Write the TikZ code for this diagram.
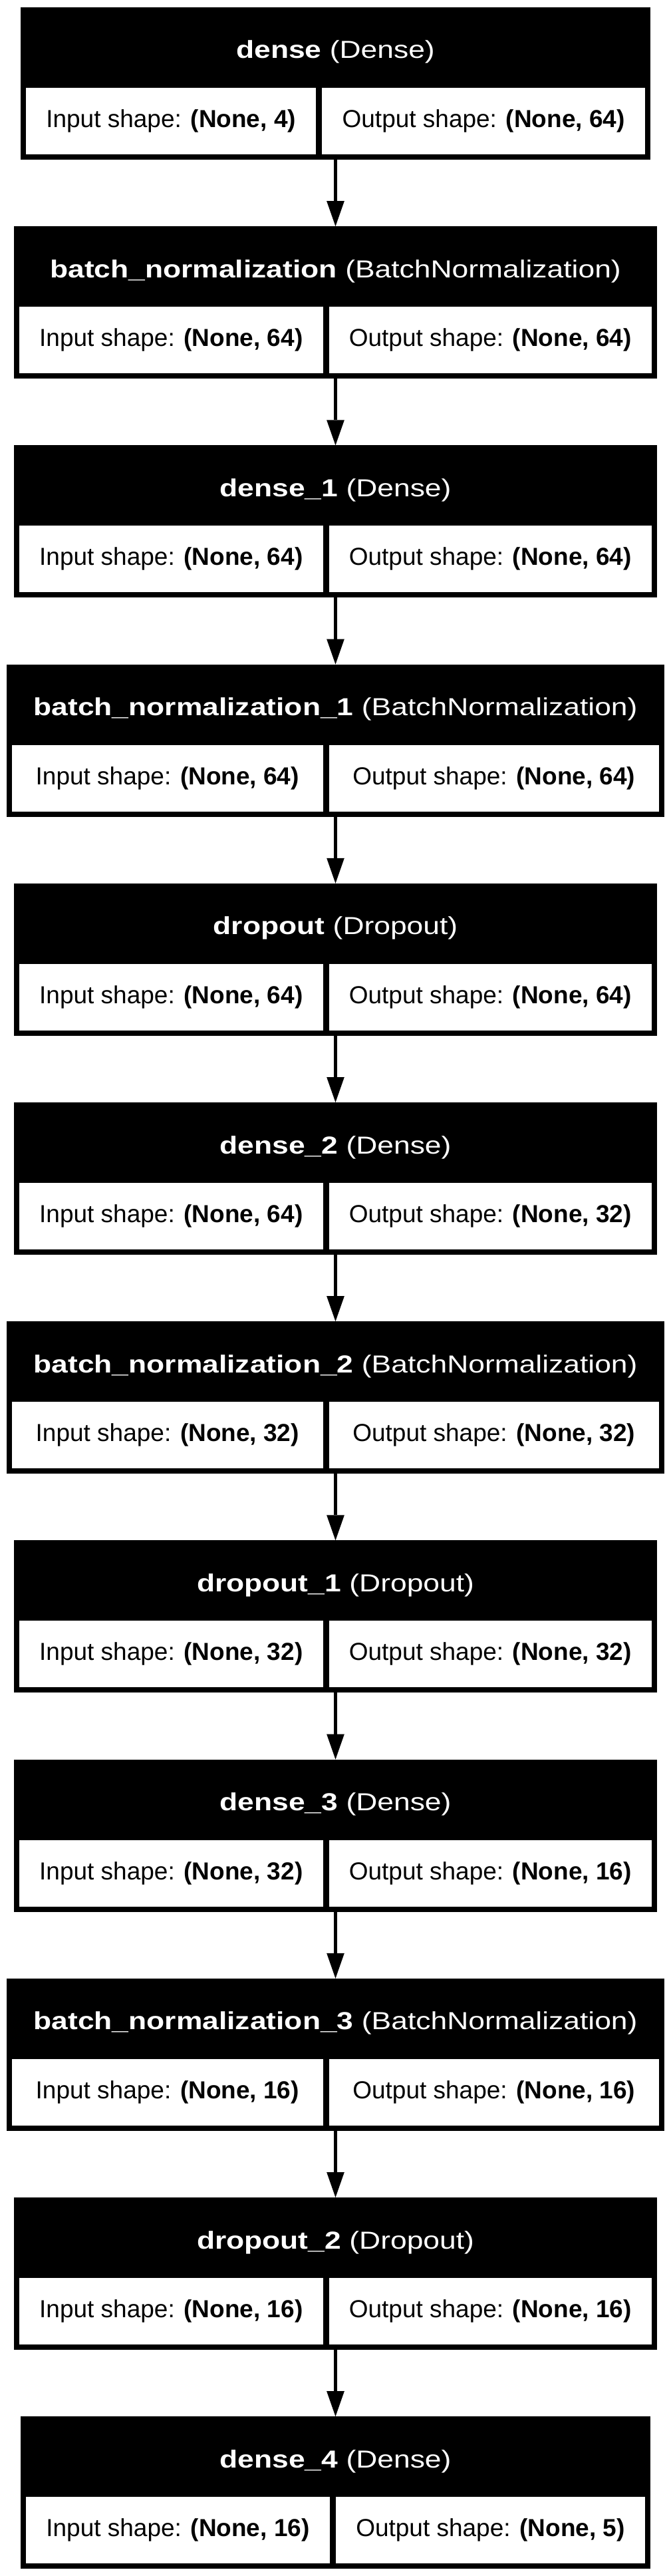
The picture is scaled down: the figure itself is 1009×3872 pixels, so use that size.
\documentclass[tikz,border=0pt]{standalone}
\usepackage{fontspec}
\setmainfont{Liberation Sans}
\newfontfamily\cabfont[FakeStretch=1.2]{Liberation Sans}
\usetikzlibrary{arrows.meta,positioning}
\tikzstyle{capa}=[rectangle,fill=black,draw=none,minimum height=171.75pt,inner sep=0pt,outer sep=0pt,anchor=north]
\tikzstyle{cabecera}=[text=white,inner sep=0pt,anchor=base,font=\cabfont\fontsize{27.75}{33}\selectfont]
\tikzstyle{celda}=[rectangle,fill=white,draw=none,minimum height=75pt,inner sep=0pt,outer sep=0pt,font=\fontsize{27.75}{33}\selectfont]
\tikzstyle{flecha}=[->,line width=3.75pt]

\begin{document}
\begin{tikzpicture}[x=0.75pt,y=0.75pt,>={Triangle[length=28.5pt,width=20pt,line width=0pt]}]
	\useasboundingbox (0,0) rectangle (1009,-3872);
	\foreach \i/\nom/\tipo/\ent/\sal/\ancho/\izq/\der in {
		1/dense/Dense/4/64/710.25pt/327.2pt/364.3pt,
		2/batch\_normalization/BatchNormalization/64/64/725.25pt/342.45pt/364.05pt,
		3/dense\_1/Dense/64/64/725.25pt/342.45pt/364.05pt,
		4/batch\_normalization\_1/BatchNormalization/64/64/741.75pt/350.7pt/372.3pt,
		5/dropout/Dropout/64/64/725.25pt/342.45pt/364.05pt,
		6/dense\_2/Dense/64/32/725.25pt/342.45pt/364.05pt,
		7/batch\_normalization\_2/BatchNormalization/32/32/741.75pt/350.7pt/372.3pt,
		8/dropout\_1/Dropout/32/32/725.25pt/342.45pt/364.05pt,
		9/dense\_3/Dense/32/16/725.25pt/342.45pt/364.05pt,
		10/batch\_normalization\_3/BatchNormalization/16/16/741.75pt/350.7pt/372.3pt,
		11/dropout\_2/Dropout/16/16/725.25pt/342.45pt/364.05pt,
		12/dense\_4/Dense/16/5/710.25pt/342.7pt/348.8pt}
	{
		\node[capa,minimum width=\ancho]	(c\i)	at (504.5,{-11-(\i-1)*329.2})	{};
		\node[cabecera,yshift=-57.75pt]	(t\i)	at (c\i.north)	{\textbf{\nom} (\tipo)};
		\node[celda,minimum width=\izq]
				(e\i)	[above right=6pt and 6pt of c\i.south west]	{Input shape: \textbf{(None, \ent)}};
		\node[celda,minimum width=\der]
				(s\i)	[above left=6pt and 6pt of c\i.south east]	{Output shape: \textbf{(None, \sal)}};
	}
	\foreach \i [count=\j from 2] in {1,...,11}
		\draw[flecha]	(c\i) -- (c\j);
\end{tikzpicture}
\end{document}
